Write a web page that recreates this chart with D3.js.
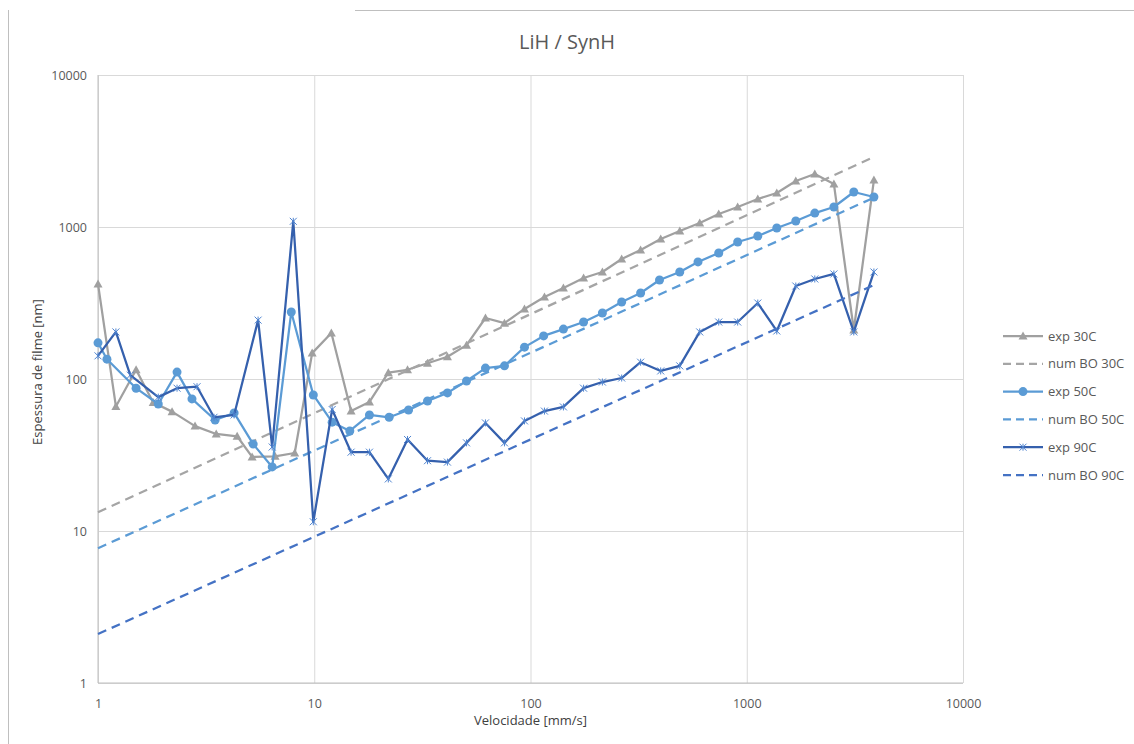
<!DOCTYPE html>
<html>
<head>
<meta charset="utf-8">
<script src="https://cdn.jsdelivr.net/npm/d3@7"></script>
<style>
  body { margin: 0; background: #fff; }
  svg { display: block; }
  text { font-family: 'Open Sans', sans-serif; }
</style>
</head>
<body>
<svg id="chart" width="1134" height="744"></svg>
<script>
// Measured film thickness [nm] vs. speed [mm/s] for three temperatures,
// plus the numerical (BO) prediction lines.
const speeds30 = [1, 1.21, 1.5, 1.8, 2.2, 2.81, 3.52, 4.4, 5.16, 6.59, 8.12, 9.78, 12.0, 14.8, 18.0, 22.0, 27.0, 33.4, 41.3, 50.6, 61.9, 75.8, 93.8, 116, 142, 176, 215, 264, 323, 400, 490, 606, 742, 908, 1125, 1377, 1686, 2064, 2529, 3126, 3873];
const thick30  = [422, 66, 115, 70, 61, 49, 43.5, 42, 30.7, 31, 32.6, 148, 201, 61.5, 70.6, 110, 115, 127, 140, 167, 252, 233, 289, 346, 397, 462, 506, 616, 706, 834, 942, 1063, 1218, 1355, 1529, 1675, 2009, 2234, 1919, 210, 2037];

const speeds50 = [1, 1.10, 1.5, 1.9, 2.32, 2.72, 3.48, 4.26, 5.22, 6.39, 7.83, 9.9, 12.1, 14.6, 18.0, 22.2, 27.3, 33.4, 41.3, 50.6, 61.9, 75.8, 93.8, 115, 142, 176, 215, 264, 323, 395, 490, 595, 742, 908, 1125, 1377, 1686, 2064, 2529, 3126, 3873];
const thick50  = [173, 135, 87, 68.5, 111, 74, 53.7, 59.8, 37.3, 26.4, 276, 78.5, 52, 45.5, 58, 56, 62.5, 71.6, 81, 97, 118, 122, 162, 192, 213, 237, 272, 321, 368, 448, 506, 589, 675, 797, 873, 985, 1095, 1235, 1354, 1699, 1575];

const speeds90 = [1, 1.21, 1.41, 1.9, 2.32, 2.87, 3.44, 4.26, 5.5, 6.39, 8.0, 9.9, 12.1, 14.8, 18.0, 22.0, 27.0, 33.4, 41.3, 50.6, 61.9, 75.8, 93.8, 116, 142, 176, 215, 264, 323, 400, 490, 606, 742, 908, 1125, 1377, 1686, 2064, 2529, 3126, 3873];
const thick90  = [142, 204, 106, 76, 87, 89, 56, 58, 244, 35.7, 1090, 11.5, 63, 33, 33, 22, 40, 29, 28.4, 38, 51.4, 38, 53, 61.5, 65.5, 87, 95.5, 101.5, 129, 113, 122, 204, 237, 237, 316, 207, 409, 455, 491, 204, 506];

// Numerical BO predictions are straight in log-log: values at the end speeds
const numSpeeds = [1, 3873];
const numBO30 = [13.3, 2890];
const numBO50 = [7.7, 1560];
const numBO90 = [2.1, 415];

const axisTicks = [1, 10, 100, 1000, 10000];
const seriesNames = ["exp 30C", "num BO 30C", "exp 50C", "num BO 50C", "exp 90C", "num BO 90C"];

const svg = d3.select("#chart");
const W = 1134, H = 744;
const plot = { left: 98, right: 963, top: 75, bottom: 683 };

svg.append("rect").attr("width", W).attr("height", H).attr("fill", "#fff");

// outer chart frame
svg.append("line").attr("x1", 355).attr("x2", W).attr("y1", 10.5).attr("y2", 10.5)
  .attr("stroke", "#bfbfbf").attr("stroke-width", 1);
svg.append("line").attr("x1", 8.5).attr("x2", 8.5).attr("y1", 10).attr("y2", H)
  .attr("stroke", "#bfbfbf").attr("stroke-width", 1);

const x = d3.scaleLog().domain([1, 10000]).range([plot.left, plot.right]);
const y = d3.scaleLog().domain([1, 10000]).range([plot.bottom, plot.top]);

// gridlines + tick labels
const yAxis = d3.axisLeft(y).tickValues(axisTicks).tickFormat(d3.format("d"))
  .tickSize(-(plot.right - plot.left)).tickPadding(11);
const xAxis = d3.axisBottom(x).tickValues(axisTicks).tickFormat(d3.format("d"))
  .tickSize(-(plot.bottom - plot.top)).tickPadding(16);

const gy = svg.append("g").attr("transform", `translate(${plot.left},0)`).call(yAxis);
const gx = svg.append("g").attr("transform", `translate(0,${plot.bottom})`).call(xAxis);
[gx, gy].forEach(g => {
  g.select(".domain").remove();
  g.selectAll(".tick line").attr("stroke", "#d9d9d9").attr("stroke-width", 1);
  g.selectAll(".tick text").attr("fill", "#595959").style("font-size", "12.5px");
});
// axis lines
svg.append("line").attr("x1", plot.left).attr("x2", plot.left).attr("y1", plot.top).attr("y2", plot.bottom)
  .attr("stroke", "#bfbfbf");
svg.append("line").attr("x1", plot.left).attr("x2", plot.right).attr("y1", plot.bottom).attr("y2", plot.bottom)
  .attr("stroke", "#bfbfbf");

// title and axis titles
svg.append("text").attr("x", W / 2).attr("y", 49).attr("text-anchor", "middle")
  .attr("fill", "#595959").style("font-size", "20px").text("LiH / SynH");
svg.append("text").attr("x", (plot.left + plot.right) / 2).attr("y", 725).attr("text-anchor", "middle")
  .attr("fill", "#404040").style("font-size", "13px").text("Velocidade [mm/s]");
svg.append("text").attr("transform", `translate(42,${(plot.top + plot.bottom) / 2 - 7}) rotate(-90)`)
  .attr("text-anchor", "middle").attr("fill", "#404040").style("font-size", "13px")
  .text("Espessura de filme [nm]");

const line = d3.line().x(d => x(d[0])).y(d => y(d[1]));
const zip = (a, b) => a.map((v, i) => [v, b[i]]);

const styles = [
  { name: seriesNames[0], pts: zip(speeds30, thick30), color: "#a0a0a0", dash: null, marker: "triangle", mcolor: "#a0a0a0" },
  { name: seriesNames[1], pts: zip(numSpeeds, numBO30), color: "#a5a5a5", dash: "9,6", marker: null },
  { name: seriesNames[2], pts: zip(speeds50, thick50), color: "#5b9bd5", dash: null, marker: "circle", mcolor: "#5b9bd5" },
  { name: seriesNames[3], pts: zip(numSpeeds, numBO50), color: "#5b9bd5", dash: "9,6", marker: null },
  { name: seriesNames[4], pts: zip(speeds90, thick90), color: "#3560ad", dash: null, marker: "star", mcolor: "#4f84d0" },
  { name: seriesNames[5], pts: zip(numSpeeds, numBO90), color: "#4472c4", dash: "9,6", marker: null }
];

function drawMarker(g, type, cx, cy, color) {
  if (type === "triangle") {
    g.append("path").attr("d", "M0,-4.5L4.5,3.5L-4.5,3.5Z")
      .attr("transform", `translate(${cx},${cy})`).attr("fill", color);
  } else if (type === "circle") {
    g.append("circle").attr("cx", cx).attr("cy", cy).attr("r", 4.5).attr("fill", color);
  } else if (type === "star") {
    const s = 3.5;
    g.append("path").attr("d", `M${-s},${-s}L${s},${s}M${-s},${s}L${s},${-s}M0,${-s}L0,${s}`)
      .attr("transform", `translate(${cx},${cy})`).attr("stroke", color).attr("stroke-width", 1).attr("fill", "none");
  }
}

const marks = svg.append("g");
styles.forEach(s => {
  const g = marks.append("g");
  g.append("path").datum(s.pts).attr("d", line).attr("fill", "none")
    .attr("stroke", s.color).attr("stroke-width", 2.25)
    .attr("stroke-dasharray", s.dash).attr("stroke-linejoin", "round");
  if (s.marker) s.pts.forEach(p => drawMarker(g, s.marker, x(p[0]), y(p[1]), s.mcolor));
});

// legend
const legend = svg.append("g");
styles.forEach((s, i) => {
  const ly = 336 + i * 27.8;
  legend.append("line").attr("x1", 1003).attr("x2", 1043).attr("y1", ly).attr("y2", ly)
    .attr("stroke", s.color).attr("stroke-width", 2.25).attr("stroke-dasharray", s.dash ? "8,5" : null);
  if (s.marker) drawMarker(legend, s.marker, 1023, ly, s.mcolor);
  legend.append("text").attr("x", 1048).attr("y", ly).attr("dy", "0.35em")
    .attr("fill", "#595959").style("font-size", "13px").text(s.name);
});
</script>
</body>
</html>
